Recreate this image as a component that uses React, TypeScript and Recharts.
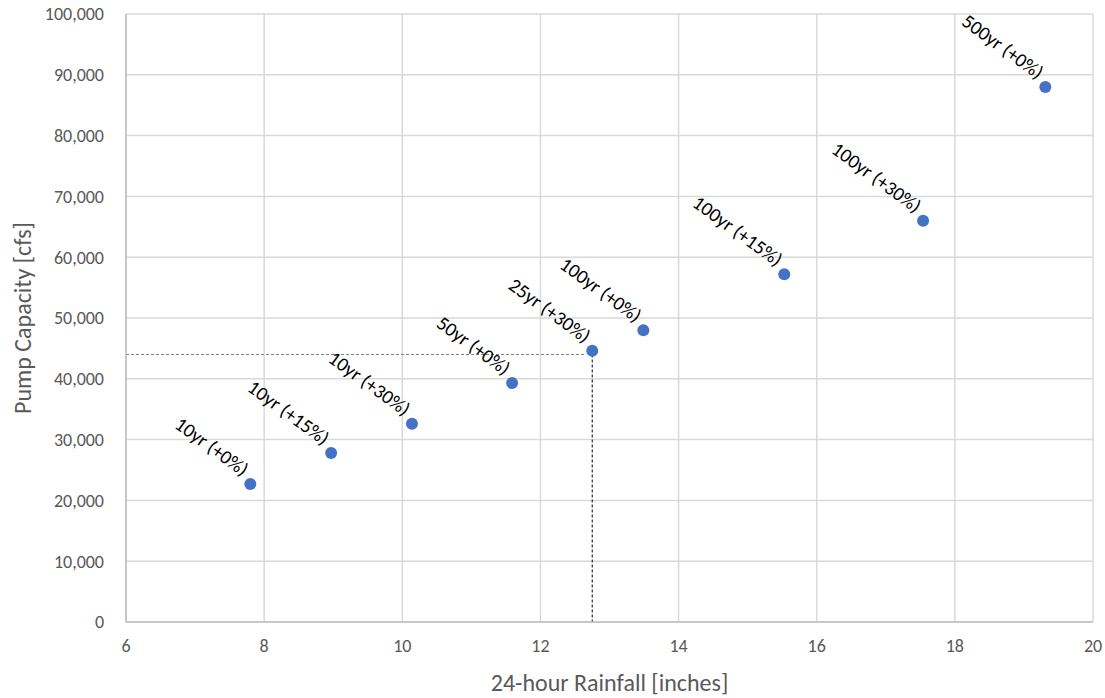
import React from 'react';
import { ScatterChart, Scatter, XAxis, YAxis, CartesianGrid, ReferenceLine, Label } from 'recharts';

const rainfall = [7.8, 8.97, 10.14, 11.59, 12.75, 13.49, 15.53, 17.54, 19.31];
const capacity = [22700, 27800, 32600, 39300, 44600, 48000, 57200, 66000, 88000];
const storms = [
  '10yr (+0%)',
  '10yr (+15%)',
  '10yr (+30%)',
  '50yr (+0%)',
  '25yr (+30%)',
  '100yr (+0%)',
  '100yr (+15%)',
  '100yr (+30%)',
  '500yr (+0%)',
];
const xTicks = [6, 8, 10, 12, 14, 16, 18, 20];
const yTicks = [0, 10000, 20000, 30000, 40000, 50000, 60000, 70000, 80000, 90000, 100000];

const targetCapacity = 44000;
const targetRain = 12.75;

const points = rainfall.map((x, i) => ({ x, y: capacity[i], name: storms[i] }));

const font = 'Carlito, Lato, "Open Sans", sans-serif';

const Dot = (props: any) => {
  const { cx, cy, payload } = props;
  return (
    <g>
      <circle cx={cx} cy={cy} r={6} fill="#4472C4" />
      <text
        x={cx - 8}
        y={cy - 7}
        textAnchor="end"
        fontSize={19.5}
        fontFamily={font}
        fill="#000"
        transform={`rotate(36 ${cx - 8} ${cy - 7})`}
      >
        {payload.name}
      </text>
    </g>
  );
};

const YTitle = (props: any) => {
  const { viewBox } = props;
  const cy = viewBox.y + viewBox.height / 2;
  return (
    <text
      x={22}
      y={cy}
      textAnchor="middle"
      dominantBaseline="central"
      fontSize={24}
      fontFamily={font}
      fill="#595959"
      transform={`rotate(-90 22 ${cy})`}
    >
      Pump Capacity [cfs]
    </text>
  );
};

const App: React.FC = () => {
  return (
    <div style={{ position: 'absolute', left: 0, top: 0, background: '#fff' }}>
      <ScatterChart width={1105} height={698} margin={{ top: 14, right: 12, bottom: 0, left: 0 }}>
        <CartesianGrid stroke="#d9d9d9" strokeWidth={1.5} />
        <XAxis
          type="number"
          dataKey="x"
          domain={[6, 20]}
          ticks={xTicks}
          tickLine={false}
          axisLine={{ stroke: '#bfbfbf', strokeWidth: 1.5 }}
          height={76}
          tick={{ fill: '#595959', fontSize: 18, fontFamily: font }}
          tickMargin={11}
        >
          <Label
            value="24-hour Rainfall [inches]"
            position="insideBottom"
            offset={7}
            style={{ fill: '#595959', fontSize: 24, fontFamily: font }}
          />
        </XAxis>
        <YAxis
          type="number"
          dataKey="y"
          domain={[0, 100000]}
          ticks={yTicks}
          tickLine={false}
          axisLine={{ stroke: '#bfbfbf', strokeWidth: 1.5 }}
          width={126}
          tick={{ fill: '#595959', fontSize: 18, fontFamily: font }}
          tickMargin={16}
          tickFormatter={(v: number) => v.toLocaleString('en-US')}
        >
          <Label content={<YTitle />} />
        </YAxis>
        <ReferenceLine
          segment={[{ x: 6, y: targetCapacity }, { x: targetRain - 0.12, y: targetCapacity }]}
          stroke="#7f7f7f"
          strokeDasharray="3 2"
        />
        <ReferenceLine
          segment={[{ x: targetRain, y: targetCapacity }, { x: targetRain, y: 0 }]}
          stroke="#000"
          strokeDasharray="3 2"
        />
        <Scatter data={points} shape={<Dot />} isAnimationActive={false} />
      </ScatterChart>
    </div>
  );
};

export default App;
